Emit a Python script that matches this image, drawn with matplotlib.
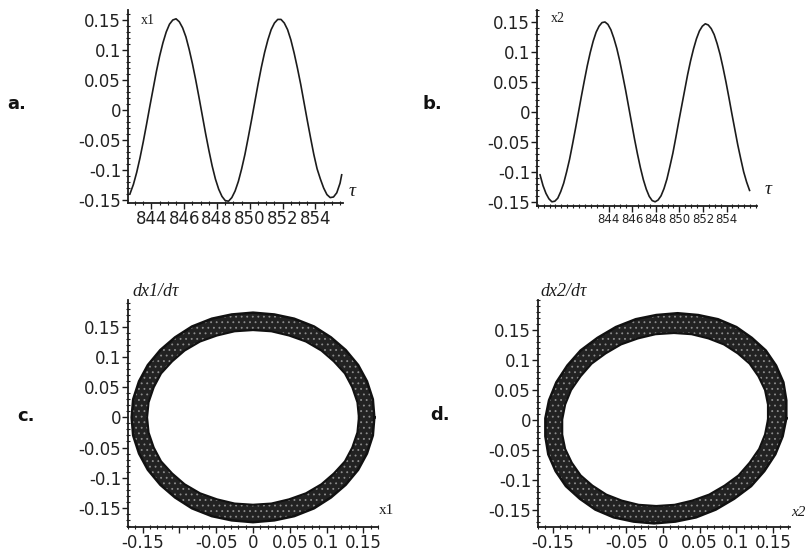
import numpy as np
import matplotlib
matplotlib.use("Agg")
import matplotlib.pyplot as plt
from matplotlib.ticker import MultipleLocator, FixedLocator, FixedFormatter, FuncFormatter
from matplotlib.path import Path
from matplotlib.patches import PathPatch

# ---------------- data ----------------
# panel a: x1(tau)
tau_a = [842.70, 842.90, 843.10, 843.30, 843.50, 843.70, 843.90, 844.10, 844.30, 844.50,
         844.70, 844.90, 845.10, 845.30, 845.50, 845.70, 845.90, 846.10, 846.30, 846.50,
         846.70, 846.90, 847.10, 847.30, 847.50, 847.70, 847.90, 848.10, 848.30, 848.50,
         848.70, 848.90, 849.10, 849.30, 849.50, 849.70, 849.90, 850.10, 850.30, 850.50,
         850.70, 850.90, 851.10, 851.30, 851.50, 851.70, 851.90, 852.10, 852.30, 852.50,
         852.70, 852.90, 853.10, 853.30, 853.50, 853.70, 853.90, 854.10, 854.30, 854.50,
         854.70, 854.90, 855.10, 855.30, 855.50, 855.60]
x1_a = [-0.139, -0.124, -0.104, -0.080, -0.053, -0.024, 0.006, 0.035, 0.064, 0.090,
        0.112, 0.130, 0.143, 0.150, 0.152, 0.147, 0.137, 0.122, 0.101, 0.077,
        0.050, 0.021, -0.009, -0.039, -0.067, -0.093, -0.115, -0.132, -0.144, -0.151,
        -0.152, -0.146, -0.135, -0.119, -0.098, -0.074, -0.046, -0.017, 0.013, 0.043,
        0.071, 0.096, 0.117, 0.134, 0.145, 0.151, 0.151, 0.145, 0.134, 0.117,
        0.095, 0.070, 0.043, 0.013, -0.017, -0.046, -0.074, -0.098, -0.115, -0.130,
        -0.141, -0.146, -0.145, -0.138, -0.122, -0.108]

# panel b: x2(tau)
tau_b = [838.20, 838.45, 838.70, 838.95, 839.20, 839.45, 839.70, 839.95, 840.20, 840.45,
         840.70, 840.95, 841.20, 841.45, 841.70, 841.95, 842.20, 842.45, 842.70, 842.95,
         843.20, 843.45, 843.70, 843.95, 844.20, 844.45, 844.70, 844.95, 845.20, 845.45,
         845.70, 845.95, 846.20, 846.45, 846.70, 846.95, 847.20, 847.45, 847.70, 847.95,
         848.20, 848.45, 848.70, 848.95, 849.20, 849.45, 849.70, 849.95, 850.20, 850.45,
         850.70, 850.95, 851.20, 851.45, 851.70, 851.95, 852.20, 852.45, 852.70, 852.95,
         853.20, 853.45, 853.70, 853.95, 854.20, 854.45, 854.70, 854.95, 855.20, 855.45,
         855.70, 855.95]
x2_b = [-0.105, -0.123, -0.136, -0.145, -0.150, -0.149, -0.144, -0.133, -0.119, -0.100,
        -0.079, -0.054, -0.028, -0.001, 0.026, 0.052, 0.077, 0.099, 0.118, 0.133,
        0.143, 0.149, 0.150, 0.146, 0.137, 0.123, 0.106, 0.085, 0.061, 0.036,
        0.009, -0.018, -0.045, -0.070, -0.093, -0.113, -0.129, -0.141, -0.148, -0.150,
        -0.147, -0.140, -0.128, -0.112, -0.091, -0.069, -0.043, -0.016, 0.010, 0.036,
        0.062, 0.085, 0.105, 0.122, 0.135, 0.143, 0.147, 0.145, 0.139, 0.129,
        0.114, 0.096, 0.074, 0.050, 0.024, -0.003, -0.029, -0.055, -0.078, -0.100,
        -0.117, -0.131]

# panel c: phase portrait x1 vs dx1/dtau (outer / inner edge of the band of orbits)
c_outer_x = [0.165, 0.163, 0.155, 0.143, 0.126, 0.106, 0.083, 0.056, 0.029, 0.000,
             -0.029, -0.056, -0.083, -0.106, -0.126, -0.143, -0.155, -0.163, -0.165,
             -0.163, -0.155, -0.143, -0.126, -0.106, -0.083, -0.056, -0.029, 0.000,
             0.029, 0.056, 0.083, 0.106, 0.126, 0.143, 0.155, 0.163]
c_outer_y = [0.000, 0.030, 0.060, 0.087, 0.112, 0.133, 0.151, 0.164, 0.171, 0.174,
             0.171, 0.164, 0.151, 0.133, 0.112, 0.087, 0.060, 0.030, 0.000,
             -0.030, -0.060, -0.087, -0.112, -0.133, -0.151, -0.164, -0.171, -0.174,
             -0.171, -0.164, -0.151, -0.133, -0.112, -0.087, -0.060, -0.030]
c_inner_x = [0.144, 0.142, 0.135, 0.125, 0.110, 0.093, 0.072, 0.049, 0.025, 0.000,
             -0.025, -0.049, -0.072, -0.093, -0.110, -0.125, -0.135, -0.142, -0.144,
             -0.142, -0.135, -0.125, -0.110, -0.093, -0.072, -0.049, -0.025, 0.000,
             0.025, 0.049, 0.072, 0.093, 0.110, 0.125, 0.135, 0.142]
c_inner_y = [0.000, 0.025, 0.050, 0.073, 0.093, 0.111, 0.126, 0.136, 0.143, 0.145,
             0.143, 0.136, 0.126, 0.111, 0.093, 0.073, 0.050, 0.025, 0.000,
             -0.025, -0.050, -0.073, -0.093, -0.111, -0.126, -0.136, -0.143, -0.145,
             -0.143, -0.136, -0.126, -0.111, -0.093, -0.073, -0.050, -0.025]

# panel d: phase portrait x2 vs dx2/dtau
d_outer_x = [0.168, 0.168, 0.164, 0.154, 0.140, 0.121, 0.100, 0.075, 0.048, 0.020,
             -0.009, -0.037, -0.064, -0.089, -0.112, -0.130, -0.145, -0.155, -0.160,
             -0.160, -0.156, -0.146, -0.132, -0.113, -0.092, -0.067, -0.040, -0.012,
             0.017, 0.045, 0.072, 0.097, 0.120, 0.138, 0.153, 0.163]
d_outer_y = [0.003, 0.033, 0.063, 0.091, 0.116, 0.137, 0.155, 0.168, 0.175, 0.178,
             0.175, 0.168, 0.155, 0.137, 0.116, 0.091, 0.063, 0.033, 0.003,
             -0.027, -0.057, -0.085, -0.110, -0.131, -0.149, -0.162, -0.169, -0.172,
             -0.169, -0.162, -0.149, -0.131, -0.110, -0.085, -0.057, -0.027]
d_inner_x = [0.143, 0.143, 0.139, 0.130, 0.118, 0.102, 0.083, 0.062, 0.039, 0.015,
             -0.010, -0.034, -0.057, -0.078, -0.097, -0.112, -0.125, -0.133, -0.137,
             -0.137, -0.133, -0.124, -0.112, -0.096, -0.077, -0.056, -0.033, -0.009,
             0.016, 0.040, 0.063, 0.084, 0.103, 0.118, 0.131, 0.139]
d_inner_y = [0.001, 0.026, 0.050, 0.073, 0.094, 0.111, 0.126, 0.136, 0.143, 0.145,
             0.143, 0.136, 0.126, 0.111, 0.094, 0.073, 0.050, 0.026, 0.001,
             -0.024, -0.048, -0.071, -0.092, -0.109, -0.124, -0.134, -0.141, -0.143,
             -0.141, -0.134, -0.124, -0.109, -0.092, -0.071, -0.048, -0.024]

y_ticks = [-0.15, -0.1, -0.05, 0, 0.05, 0.1, 0.15]
tau_ticks = [844, 846, 848, 850, 852, 854]
phase_x_ticks = [-0.15, -0.1, -0.05, 0, 0.05, 0.1, 0.15]
phase_x_labels = ["-0.15", "", "-0.05", "0", "0.05", "0.1", "0.15"]

# ---------------- figure ----------------
W, H = 812, 557
fig = plt.figure(figsize=(W / 100, H / 100), dpi=100)
fig.patch.set_facecolor("white")
plt.rcParams["hatch.linewidth"] = 0.6

INK = "#1c1c1c"
SERIF = ["Liberation Serif", "DejaVu Serif"]


def make_axes(left, right, top, bottom):
    return fig.add_axes([left / W, 1 - bottom / H, (right - left) / W, (bottom - top) / H])


def style(ax, xminor, yminor):
    for s in ("top", "right"):
        ax.spines[s].set_visible(False)
    for s in ("left", "bottom"):
        ax.spines[s].set_linewidth(1.3)
        ax.spines[s].set_color(INK)
    ax.yaxis.set_major_locator(FixedLocator(y_ticks))
    ax.yaxis.set_major_formatter(FuncFormatter(lambda v, p: f"{v:g}"))
    ax.xaxis.set_minor_locator(MultipleLocator(xminor))
    ax.yaxis.set_minor_locator(MultipleLocator(yminor))
    ax.tick_params(which="major", direction="out", length=4, width=1.0, color=INK,
                   labelsize=12, labelcolor="#222222", pad=1)
    ax.tick_params(which="minor", direction="inout", length=3, width=0.8, color=INK)
    ax.set_facecolor("none")


# panel a
axa = make_axes(128, 343, 10, 203)
axa.plot(tau_a, x1_a, color=INK, lw=1.2)
axa.set_xlim(842.57, 855.68)
axa.set_ylim(-0.155, 0.1667)
style(axa, 0.5, 0.01)
axa.xaxis.set_major_locator(FixedLocator(tau_ticks))
axa.xaxis.set_major_formatter(FixedFormatter([str(t) for t in tau_ticks]))

# panel b
axb = make_axes(537, 757, 10, 206)
axb.plot(tau_b, x2_b, color=INK, lw=1.2)
axb.set_xlim(837.94, 856.58)
axb.set_ylim(-0.157, 0.17)
style(axb, 0.5, 0.01)
axb.xaxis.set_major_locator(FixedLocator(tau_ticks))
axb.xaxis.set_major_formatter(FixedFormatter([str(t) for t in tau_ticks]))
for t in axb.get_xticklabels():
    t.set_fontsize(8.5)


def ring(ax, ox, oy, ix, iy):
    outer = np.column_stack([ox + ox[:1], oy + oy[:1]])
    inner = np.column_stack([ix + ix[:1], iy + iy[:1]])[::-1]
    path = Path.make_compound_path(Path(outer, closed=True), Path(inner, closed=True))
    ax.add_patch(PathPatch(path, facecolor="#222222", edgecolor="#8c8c8c",
                           hatch="...", lw=0))
    ax.plot(ox + ox[:1], oy + oy[:1], color="#111111", lw=1.8, solid_joinstyle="round")
    ax.plot(ix + ix[:1], iy + iy[:1], color="#111111", lw=1.5, solid_joinstyle="round")


# panel c
axc = make_axes(128, 378, 300, 527)
ring(axc, c_outer_x, c_outer_y, c_inner_x, c_inner_y)
axc.set_xlim(-0.17, 0.17)
axc.set_ylim(-0.182, 0.195)
style(axc, 0.01, 0.01)
axc.xaxis.set_major_locator(FixedLocator(phase_x_ticks))
axc.xaxis.set_major_formatter(FixedFormatter(phase_x_labels))

# panel d
axd = make_axes(538, 790, 300, 527)
ring(axd, d_outer_x, d_outer_y, d_inner_x, d_inner_y)
axd.set_xlim(-0.170, 0.173)
axd.set_ylim(-0.178, 0.2)
style(axd, 0.01, 0.01)
axd.xaxis.set_major_locator(FixedLocator(phase_x_ticks))
axd.xaxis.set_major_formatter(FixedFormatter(phase_x_labels))

# ---------------- texts ----------------
def ftext(x, y, s, **kw):
    fig.text(x / W, 1 - y / H, s, **kw)

for lab, (x, y) in {"a.": (17, 104), "b.": (432, 104), "c.": (26, 416), "d.": (440, 415)}.items():
    ftext(x, y, lab, ha="center", va="center", fontsize=13, fontweight="bold", color="#111111")

ftext(148, 20, "x1", ha="center", va="center", fontsize=10, family=SERIF, color=INK)
ftext(558, 18, "x2", ha="center", va="center", fontsize=10, family=SERIF, color=INK)
ftext(352, 192, "τ", ha="center", va="center", fontsize=14, family=SERIF, style="italic", color=INK)
ftext(768, 190, "τ", ha="center", va="center", fontsize=14, family=SERIF, style="italic", color=INK)
ftext(132, 292, "dx1/dτ", ha="left", va="center", fontsize=13, family=SERIF, style="italic", color=INK)
ftext(540, 292, "dx2/dτ", ha="left", va="center", fontsize=13, family=SERIF, style="italic", color=INK)
ftext(386, 510, "x1", ha="center", va="center", fontsize=11, family=SERIF, color=INK)
ftext(798, 512, "x2", ha="center", va="center", fontsize=11, family=SERIF, style="italic", color=INK)

fig.savefig("out.png", dpi=100, facecolor="white")
